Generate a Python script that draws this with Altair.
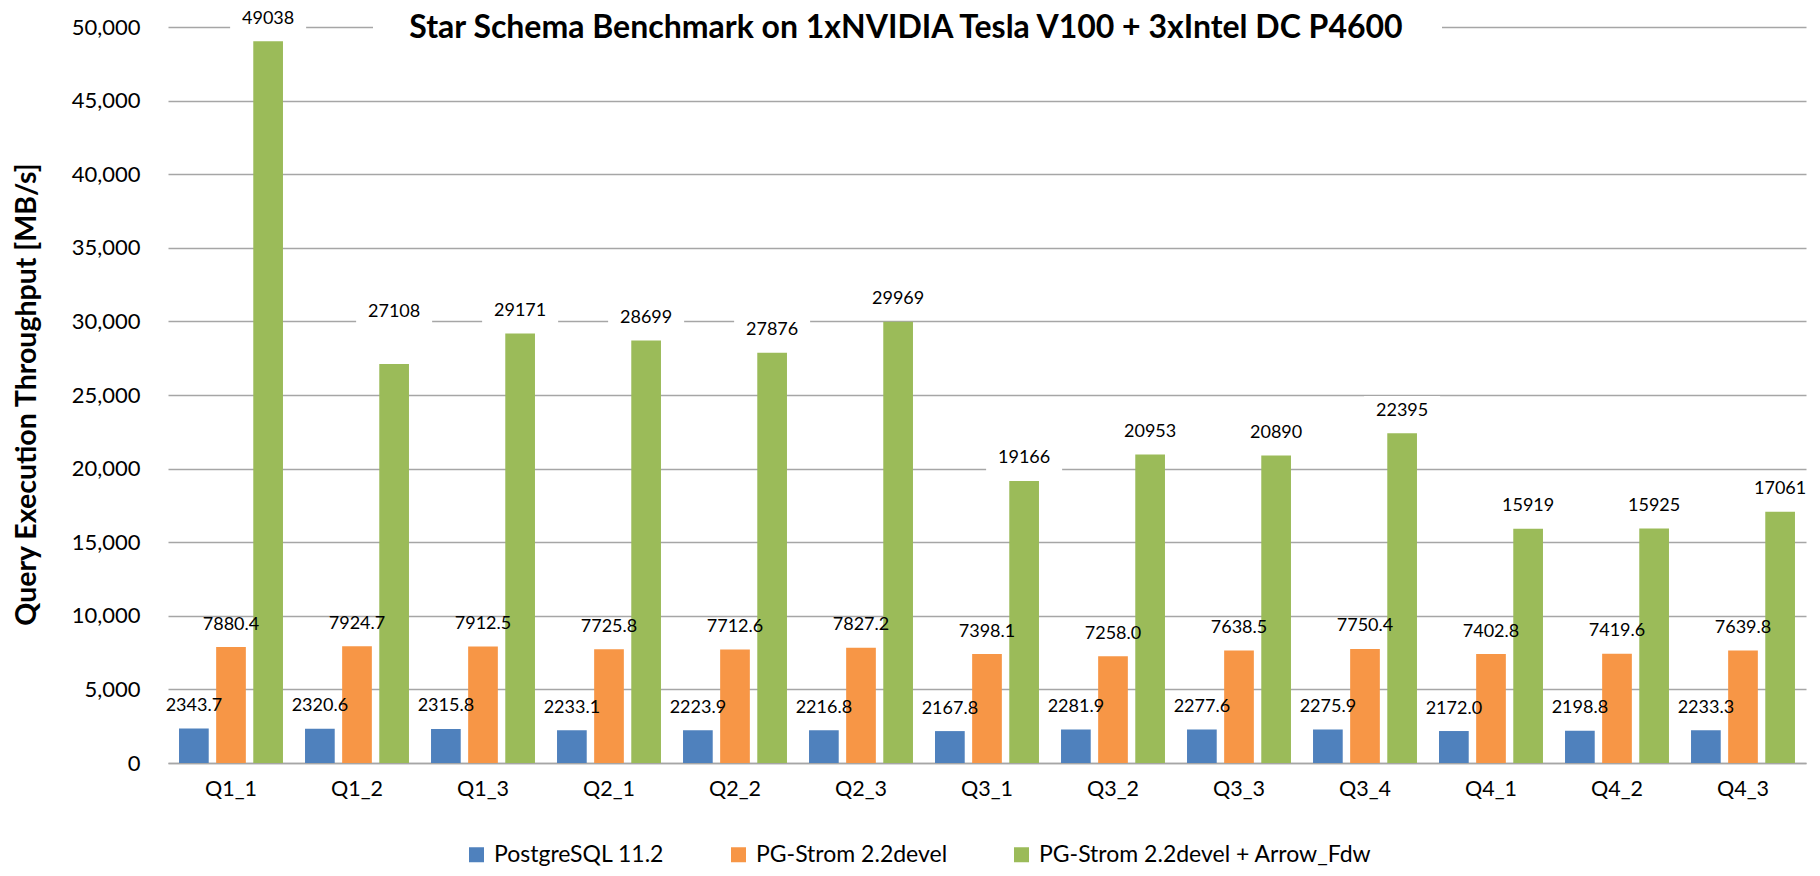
import altair as alt
import pandas as pd

categories = ["Q1_1", "Q1_2", "Q1_3", "Q2_1", "Q2_2", "Q2_3", "Q3_1",
              "Q3_2", "Q3_3", "Q3_4", "Q4_1", "Q4_2", "Q4_3"]
series_names = ["PostgreSQL 11.2", "PG-Strom 2.2devel", "PG-Strom 2.2devel + Arrow_Fdw"]
postgres = [2343.7, 2320.6, 2315.8, 2233.1, 2223.9, 2216.8, 2167.8,
            2281.9, 2277.6, 2275.9, 2172.0, 2198.8, 2233.3]
pgstrom = [7880.4, 7924.7, 7912.5, 7725.8, 7712.6, 7827.2, 7398.1,
           7258.0, 7638.5, 7750.4, 7402.8, 7419.6, 7639.8]
arrow = [49038, 27108, 29171, 28699, 27876, 29969, 19166,
         20953, 20890, 22395, 15919, 15925, 17061]
colors = ["#4F81BD", "#F79646", "#9BBB59"]
y_ticks = list(range(0, 50001, 5000))
title_text = "Star Schema Benchmark on 1xNVIDIA Tesla V100 + 3xIntel DC P4600"
y_title = "Query Execution Throughput [MB/s]"
raised_label = "Q1_2"  # this green label sits higher above its bar in the original

rows = []
for name, vals, fmt in [(series_names[0], postgres, "{:.1f}"),
                        (series_names[1], pgstrom, "{:.1f}"),
                        (series_names[2], arrow, "{:.0f}")]:
    for c, v in zip(categories, vals):
        rows.append({"query": c, "series": name, "value": v, "label": fmt.format(v)})
df = pd.DataFrame(rows)

FONT = "Lato"
DY = -22.5
DY_RAISED = -52

x_enc = alt.X("query:N", sort=categories,
              scale=alt.Scale(paddingInner=0.175, paddingOuter=0.0875),
              axis=alt.Axis(title=None, labelAngle=0, ticks=False, grid=False,
                            domain=True, domainColor="#A6A6A6", domainWidth=1.5,
                            labelFont=FONT, labelFontSize=21.5, labelColor="black",
                            labelPadding=15))
xo_enc = alt.XOffset("series:N", sort=series_names,
                     scale=alt.Scale(domain=series_names, paddingInner=0.2, paddingOuter=0))
y_enc = alt.Y("value:Q",
              scale=alt.Scale(domain=[0, 50000], nice=False),
              axis=alt.Axis(values=y_ticks, format=",d", grid=True, gridColor="#A6A6A6",
                            gridWidth=1.4, domain=False, ticks=False,
                            labelFont=FONT, labelFontSize=22, labelColor="black",
                            labelPadding=28,
                            title=y_title, titleFont=FONT, titleFontSize=28.5,
                            titleFontWeight="bold", titleColor="black",
                            titleAngle=-90, titleX=-142, titleY=367,
                            titleAlign="center", titleBaseline="middle"))

base = alt.Chart(df)

bars = base.mark_bar().encode(
    x=x_enc, xOffset=xo_enc, y=y_enc,
    color=alt.Color("series:N", sort=series_names,
                    scale=alt.Scale(domain=series_names, range=colors),
                    legend=alt.Legend(orient="none", legendX=297, legendY=816,
                                      direction="horizontal", symbolType="square",
                                      symbolSize=225, symbolStrokeWidth=0,
                                      labelFont=FONT, labelFontSize=23, labelColor="black",
                                      columnPadding=62, labelOffset=6, title=None,
                                      labelLimit=600, padding=0)),
)

green = base.transform_filter(alt.datum.series == series_names[2])
green_normal = green.transform_filter(alt.datum.query != raised_label)
green_raised = green.transform_filter(alt.datum.query == raised_label)
others = base.transform_filter(alt.datum.series != series_names[2])

box_shape = "M-1,-0.39H1V0.39H-1Z"


def box(src, dy):
    return src.mark_point(shape=box_shape, size=5776, filled=True, color="white",
                          opacity=1, strokeWidth=0, yOffset=dy).encode(
        x=x_enc, xOffset=xo_enc, y=y_enc)


def text(src, dy):
    return src.mark_text(dy=dy, baseline="middle", align="center",
                         font=FONT, fontSize=18, color="black").encode(
        x=x_enc, xOffset=xo_enc, y=y_enc, text="label:N")


title_df = pd.DataFrame({"t": [title_text]})
title_box = alt.Chart(title_df).mark_rect(color="white").encode(
    x=alt.value(205), x2=alt.value(1274), y=alt.value(-16), y2=alt.value(16),
)
title_mark = alt.Chart(title_df).mark_text(
    font=FONT, fontSize=32, fontWeight="bold", color="black",
    align="center", baseline="middle").encode(
    x=alt.value(738), y=alt.value(1), text="t:N",
)

chart = alt.layer(
    bars,
    box(green_normal, DY), box(green_raised, DY_RAISED),
    text(others, DY), text(green_normal, DY), text(green_raised, DY_RAISED),
    title_box, title_mark,
).properties(
    width=1638, height=736,
    autosize=alt.AutoSizeParams(type="none"),
    padding={"left": 160, "top": 19, "right": 6, "bottom": 104},
).configure_view(stroke=None)

chart.save("out.html", embed_options={"renderer": "svg", "actions": False})
